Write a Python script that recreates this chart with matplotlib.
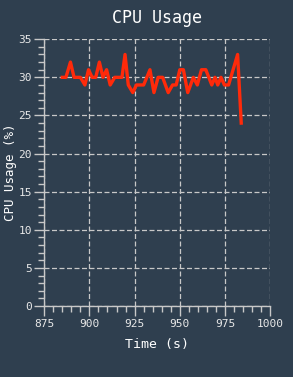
import matplotlib
matplotlib.use("Agg")
import matplotlib.pyplot as plt
from matplotlib.ticker import MultipleLocator

# data
time_s = [885, 887, 889.5, 891.5, 895, 897.5, 899.5, 901.5, 903.5, 905.5,
          907.5, 909.5, 911.5, 914, 918, 919.7, 921.5, 924, 926, 930,
          933.5, 935.7, 938, 940.5, 943.6, 946, 948, 950, 952, 954.4,
          957.5, 959.7, 962, 964.4, 967.7, 969.5, 971, 972.8, 974.7, 977,
          982, 984]
cpu_usage = [30, 30, 32, 30, 30, 29, 31, 30, 30, 32,
             30, 31, 29, 30, 30, 33, 29, 28, 29, 29,
             31, 28, 30, 30, 28, 29, 29, 31, 31, 28,
             30, 29, 31, 31, 29, 30, 29, 30, 29, 29,
             33, 24]
x_ticks = [875, 900, 925, 950, 975, 1000]
y_ticks = [0, 5, 10, 15, 20, 25, 30, 35]

bg = "#2f3f4f"
fg = "#e8e8e8"
grid_col = "#c8c8c8"

plt.rcParams['font.family'] = ['DejaVu Sans Mono', 'DejaVu Sans']

fig = plt.figure(figsize=(2.93, 3.77), dpi=100, facecolor=bg)
ax = fig.add_axes([0.151, 0.188, 0.771, 0.708])
ax.set_facecolor(bg)

ax.plot(time_s, cpu_usage, color="#ff2a0a", linewidth=2.4, zorder=3)

ax.set_xlim(875, 1000)
ax.set_ylim(0, 35)
ax.set_xticks(x_ticks)
ax.set_yticks(y_ticks)
ax.xaxis.set_minor_locator(MultipleLocator(5))
ax.yaxis.set_minor_locator(MultipleLocator(1))

# dashed major grid only
ax.grid(True, which='major', color=grid_col, linestyle=(0, (4, 2)), linewidth=0.9)
ax.set_axisbelow(True)

for side in ['top', 'right']:
    ax.spines[side].set_visible(False)
for side in ['left', 'bottom']:
    ax.spines[side].set_color(grid_col)
    ax.spines[side].set_linewidth(1.0)

ax.tick_params(which='major', length=7, width=1, color=grid_col, labelcolor=fg, labelsize=8, pad=2)
ax.tick_params(which='minor', length=4, width=1, color=grid_col)

ax.set_title("CPU Usage", color="white", fontsize=12, pad=12)
ax.set_xlabel("Time (s)", color="white", fontsize=9.5, labelpad=7)
ax.set_ylabel("CPU Usage (%)", color="white", fontsize=9, labelpad=1)

fig.savefig("out.png", dpi=100, facecolor=bg)
